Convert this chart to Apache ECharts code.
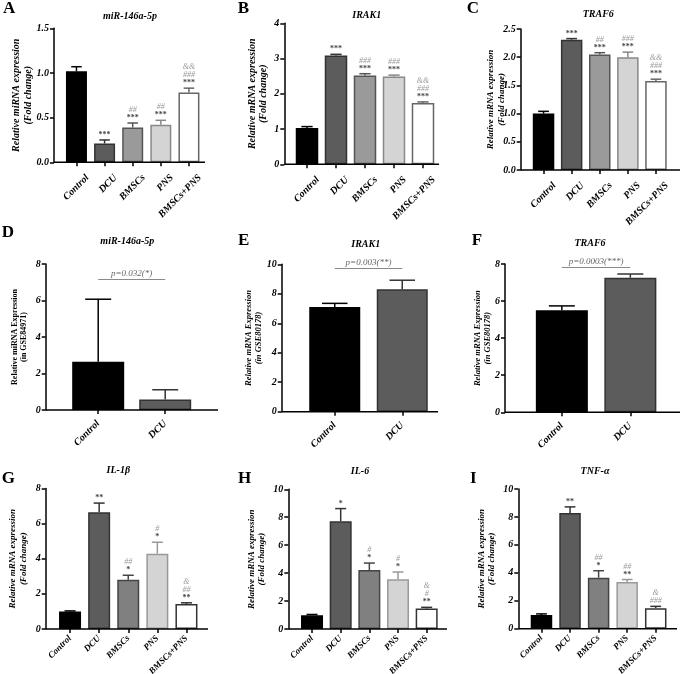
<!DOCTYPE html>
<html><head><meta charset="utf-8">
<script src="https://cdn.jsdelivr.net/npm/echarts@6/dist/echarts.min.js"></script>
<style>html,body{margin:0;padding:0;background:#fff}#c{width:685px;height:674px}</style>
</head><body><div id="c"></div>
<script>
// ---------- DATA ----------
const groups5 = ['Control', 'DCU', 'BMSCs', 'PNS', 'BMSCs+PNS'];
const groups2 = ['Control', 'DCU'];

const aMean = [1.02, 0.21, 0.39, 0.42, 0.78];
const aSem  = [0.05, 0.04, 0.05, 0.05, 0.05];
const aSig  = ['', '***', '##\n***', '##\n***', '&&\n###\n***'];

const bMean = [1.03, 3.09, 2.52, 2.49, 1.74];
const bSem  = [0.04, 0.03, 0.05, 0.04, 0.03];
const bSig  = ['', '***', '###\n***', '###\n***', '&&\n###\n***'];

const cMean = [1.00, 2.31, 2.05, 2.00, 1.58];
const cSem  = [0.04, 0.02, 0.03, 0.09, 0.03];
const cSig  = ['', '***', '##\n***', '###\n***', '&&\n###\n***'];

const dMean = [2.65, 0.58];
const dSem  = [3.42, 0.53];
const dBracket = 7.16, dP = 'p=0.032(*)';

const eMean = [7.10, 8.30];
const eSem  = [0.25, 0.62];
const eBracket = 9.73, eP = 'p=0.003(**)';

const fMean = [5.50, 7.26];
const fSem  = [0.24, 0.20];
const fBracket = 7.84, fP = 'p=0.0003(***)';

const gMean = [1.00, 6.65, 2.80, 4.29, 1.43];
const gSem  = [0.03, 0.52, 0.26, 0.65, 0.06];
const gSig  = ['', '**', '##\n*', '#\n*', '&\n##\n**'];

const hMean = [0.98, 7.72, 4.22, 3.56, 1.47];
const hSem  = [0.06, 0.90, 0.50, 0.52, 0.08];
const hSig  = ['', '*', '#\n*', '#\n*', '&\n#\n**'];

const iMean = [0.98, 8.29, 3.65, 3.34, 1.47];
const iSem  = [0.08, 0.43, 0.50, 0.18, 0.13];
const iSig  = ['', '**', '##\n*', '##\n**', '&\n###'];

// axis ranges
const yA = {min: 0, max: 1.5, interval: 0.5, dec: 1};
const yB = {min: 0, max: 4, interval: 1, dec: 0};
const yC = {min: 0, max: 2.5, interval: 0.5, dec: 1};
const yD = {min: 0, max: 8, interval: 2, dec: 0};
const yE = {min: 0, max: 10, interval: 2, dec: 0};
const yF = {min: 0, max: 8, interval: 2, dec: 0};
const yG = {min: 0, max: 8, interval: 2, dec: 0};
const yH = {min: 0, max: 10, interval: 2, dec: 0};
const yI = {min: 0, max: 10, interval: 2, dec: 0};

// ---------- STYLE / LAYOUT ----------
const FF = '"Liberation Serif","Times New Roman",serif';
const fill1 = ['#000000', '#5c5c5c', '#9a9a9a', '#d4d4d4', '#ffffff'];
const bord1 = ['#000000', '#333333', '#555555', '#888888', '#666666'];
const fill3 = ['#000000', '#5c5c5c', '#808080', '#d4d4d4', '#ffffff'];
const bord3 = ['#000000', '#333333', '#444444', '#999999', '#333333'];
const fill2 = ['#000000', '#5c5c5c'];
const bord2 = ['#000000', '#333333'];

// x-label placement per row
const lab1 = {fs: 10, rot: 45, margin: 3, va: 'top', lh: 31};
const lab2 = {fs: 10, rot: 45, margin: 12, va: 'middle', lh: 12};
const lab3 = {fs: 9, rot: 45, margin: 8, va: 'middle', lh: 11};

const panels = [
  {id:'A', cats:groups5, mean:aMean, sem:aSem, sig:aSig, y:yA, fill:fill1, bord:bord1, lab:lab1,
   L:{yx:54, l:62.4, r:203, top:28.3, bot:162.3, end:205, bw:21}, title:'miR-146a-5p', tx:130, ty:16,
   lx:3, ly:9, yname:'Relative miRNA expression\n(Fold change)', ng:20, nfs:10, nital:true},
  {id:'B', cats:groups5, mean:bMean, sem:bSem, sig:bSig, y:yB, fill:fill1, bord:bord1, lab:lab1,
   L:{yx:284.3, l:292.5, r:437.5, top:23.3, bot:164.3, end:439, bw:22.5}, title:'IRAK1', tx:366.7, ty:15,
   lx:237.7, ly:9, yname:'Relative mRNA expression\n(Fold change)', ng:15, nfs:10, nital:true},
  {id:'C', cats:groups5, mean:cMean, sem:cSem, sig:cSig, y:yC, fill:fill1, bord:bord1, lab:lab1,
   L:{yx:520.7, l:529.5, r:670, top:29, bot:170, end:680, bw:21.5}, title:'TRAF6', tx:598.3, ty:14,
   lx:466.7, ly:9, yname:'Relative mRNA expression\n(Fold change)', ng:14, nfs:9, nital:true},
  {id:'D', cats:groups2, mean:dMean, sem:dSem, sig:null, y:yD, fill:fill2, bord:bord2, lab:lab2,
   L:{yx:45.7, l:64.7, r:198.7, top:264, bot:410, end:218, bw:52}, title:'miR-146a-5p', tx:127.3, ty:241,
   lx:1.7, ly:233, yname:'Relative miRNA Expression\n(in GSE84971)', ng:17, nfs:8, nital:false,
   br:dBracket, p:dP},
  {id:'E', cats:groups2, mean:eMean, sem:eSem, sig:null, y:yE, fill:fill2, bord:bord2, lab:lab2,
   L:{yx:281.7, l:301, r:436, top:264.3, bot:411.7, end:438, bw:51}, title:'IRAK1', tx:365.7, ty:244,
   lx:238, ly:241, yname:'Relative mRNA Expression\n(in GSE80178)', ng:18, nfs:8.5, nital:true,
   br:eBracket, p:eP},
  {id:'F', cats:groups2, mean:fMean, sem:fSem, sig:null, y:yF, fill:fill2, bord:bord2, lab:lab2,
   L:{yx:505, l:527.6, r:664.6, top:264, bot:412.3, end:680, bw:52}, title:'TRAF6', tx:590, ty:243.3,
   lx:471.7, ly:241, yname:'Relative mRNA Expression\n(in GSE80178)', ng:12, nfs:8.5, nital:true,
   br:fBracket, p:fP},
  {id:'G', cats:groups5, mean:gMean, sem:gSem, sig:gSig, y:yG, fill:fill3, bord:bord3, lab:lab3,
   L:{yx:45.7, l:55.5, r:201, top:488.5, bot:629, end:208, bw:22}, title:'IL-1β', tx:118.3, ty:470,
   lx:1.7, ly:479, yname:'Relative mRNA expression\n(Fold change)', ng:17, nfs:9, nital:true},
  {id:'H', cats:groups5, mean:hMean, sem:hSem, sig:hSig, y:yH, fill:fill3, bord:bord3, lab:lab3,
   L:{yx:288.3, l:297.7, r:441, top:489.3, bot:629, end:447, bw:22}, title:'IL-6', tx:360, ty:471.7,
   lx:238, ly:479, yname:'Relative mRNA expression\n(Fold change)', ng:21, nfs:9, nital:true},
  {id:'I', cats:groups5, mean:iMean, sem:iSem, sig:iSig, y:yI, fill:fill3, bord:bord3, lab:lab3,
   L:{yx:518.3, l:527.2, r:670, top:489, bot:628.7, end:677, bw:21.5}, title:'TNF-α', tx:595, ty:471.7,
   lx:470, ly:479, yname:'Relative mRNA expression\n(Fold change)', ng:21, nfs:9, nital:true}
];

const grid = [], xAxis = [], yAxis = [], series = [], graphic = [];

function sigRich(txt) {
  return txt.split('\n').map(s => (s.indexOf('*') >= 0 ? '{s|' : '{h|') + s + '}').join('\n');
}

panels.forEach((P, k) => {
  const L = P.L;
  grid.push({left: L.l, top: L.top, width: L.r - L.l, height: L.bot - L.top,
             containLabel: false, outerBoundsMode: 'none'});
  xAxis.push({type: 'category', gridIndex: k, data: P.cats,
    axisLine: {show: false},
    axisTick: {show: true, alignWithLabel: true, length: 4, lineStyle: {color: '#000', width: 1.5}},
    axisLabel: {interval: 0, rotate: P.lab.rot, margin: P.lab.margin, verticalAlign: P.lab.va, lineHeight: P.lab.lh,
      fontFamily: FF, fontSize: P.lab.fs, fontWeight: 'bold', fontStyle: 'italic', color: '#000'},
    splitLine: {show: false}});
  yAxis.push({type: 'value', gridIndex: k, min: P.y.min, max: P.y.max, interval: P.y.interval,
    offset: L.l - L.yx,
    name: P.yname, nameLocation: 'middle', nameGap: P.ng, nameMoveOverlap: false,
    nameTextStyle: {fontFamily: FF, fontSize: P.nfs, fontWeight: 'bold',
      fontStyle: P.nital ? 'italic' : 'normal', color: '#000', lineHeight: P.nfs + 1.5},
    axisLine: {show: true, lineStyle: {color: '#000', width: 1.5}},
    axisTick: {show: true, length: 4, lineStyle: {color: '#000', width: 1.5}},
    axisLabel: {margin: 5, fontFamily: FF, fontSize: 10, fontWeight: 'bold', fontStyle: 'italic', color: '#000',
      formatter: v => v.toFixed(P.y.dec)},
    splitLine: {show: false}});

  const barSeries = {type: 'bar', xAxisIndex: k, yAxisIndex: k, barWidth: L.bw, z: 2,
    data: P.mean.map((v, i) => ({value: v, itemStyle: {color: P.fill[i], borderColor: P.bord[i], borderWidth: 1.5}})),
    animation: false};
  if (P.br != null) {
    barSeries.markLine = {silent: true, symbol: 'none', animation: false,
      lineStyle: {color: '#8a8a8a', width: 1.2, type: 'solid'},
      label: {show: true, position: 'middle', formatter: P.p, distance: 1,
        fontFamily: FF, fontSize: 9, fontStyle: 'italic', color: '#666'},
      data: [[{coord: [0, P.br]}, {coord: [1, P.br]}]]};
  }
  series.push(barSeries);

  const capHalf = L.bw / 4;
  series.push({type: 'custom', xAxisIndex: k, yAxisIndex: k, z: 5, animation: false,
    data: P.mean.map((m, i) => [i, m, P.sem[i]]),
    renderItem: function (params, api) {
      const i = api.value(0), m = api.value(1), s = api.value(2);
      const p0 = api.coord([i, m]), p1 = api.coord([i, m + s]);
      const c = P.bord[i];
      const ch = [
        {type: 'line', shape: {x1: p0[0], y1: p0[1], x2: p1[0], y2: p1[1]}, style: {stroke: c, lineWidth: 1.5}},
        {type: 'line', shape: {x1: p1[0] - capHalf, y1: p1[1], x2: p1[0] + capHalf, y2: p1[1]}, style: {stroke: c, lineWidth: 1.5}}
      ];
      if (P.sig && P.sig[i]) {
        ch.push({type: 'text', x: p1[0], y: p1[1] - 1, style: {
          text: sigRich(P.sig[i]), align: 'center', verticalAlign: 'bottom',
          rich: {
            s: {fill: '#444', fontSize: 8, lineHeight: 8, fontFamily: FF, fontWeight: 'bold'},
            h: {fill: '#999', fontSize: 8, lineHeight: 8, fontFamily: FF, fontStyle: 'italic'}
          }}});
      }
      return {type: 'group', children: ch};
    }});

  // baseline (x-axis line spanning from y axis to its end)
  graphic.push({type: 'line', shape: {x1: L.yx, y1: L.bot, x2: L.end, y2: L.bot},
    style: {stroke: '#000', lineWidth: 1.5}, z: 10});
  // panel title
  graphic.push({type: 'text', x: P.tx, y: P.ty, style: {text: P.title, align: 'center', verticalAlign: 'middle',
    font: 'italic bold 10px ' + FF, fill: '#000'}});
  // panel letter
  graphic.push({type: 'text', x: P.lx, y: P.ly, style: {text: P.id, align: 'left', verticalAlign: 'middle',
    font: 'bold 17px ' + FF, fill: '#000'}});
});

const chart = echarts.init(document.getElementById('c'), null, {renderer: 'canvas'});
chart.setOption({animation: false, backgroundColor: '#fff', grid, xAxis, yAxis, series, graphic});
</script>
</body></html>
